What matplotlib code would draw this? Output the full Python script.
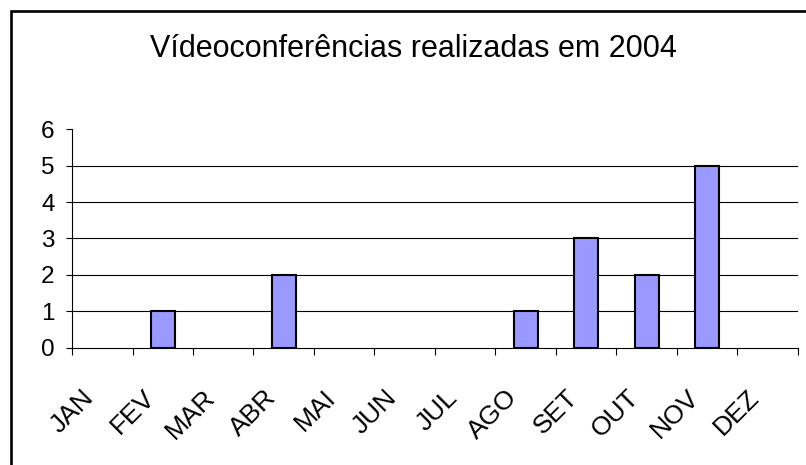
import matplotlib
matplotlib.use("Agg")
import matplotlib.pyplot as plt
from matplotlib.patches import Rectangle
from matplotlib.transforms import ScaledTranslation, blended_transform_factory

meses = ["JAN", "FEV", "MAR", "ABR", "MAI", "JUN", "JUL", "AGO", "SET", "OUT", "NOV", "DEZ"]
videoconferencias = [0, 1, 0, 2, 0, 0, 0, 1, 3, 2, 5, 0]
y_ticks = [0, 1, 2, 3, 4, 5, 6]

titulo = "Vídeoconferências realizadas em 2004"

plt.rcParams['font.family'] = ['Liberation Sans', 'DejaVu Sans']

fig = plt.figure(figsize=(8.06, 4.65), dpi=100)
ax = fig.add_axes([72 / 806, 1 - 347.7 / 465, 726 / 806, 218.4 / 465])

x = list(range(len(meses)))
barras = ax.bar(x, videoconferencias, width=0.4, color="#9999FF", edgecolor="black", linewidth=1.5, zorder=3)
# Excel doesn't show anything for empty months
for b, v in zip(barras, videoconferencias):
    if v == 0:
        b.set_visible(False)

# gridlines between 0 and 6 only
ax.hlines(y_ticks[1:-1], -0.5, len(meses) - 0.5, color="black", linewidth=0.8, zorder=1)

ax.set_xlim(-0.5, len(meses) - 0.5)
ax.set_ylim(y_ticks[0], y_ticks[-1])
ax.set_yticks(y_ticks)
ax.tick_params(axis='y', direction='out', length=4.5, width=0.8, pad=8, labelsize=17.5)

# tick marks at category boundaries, labels placed separately
ax.set_xticks([i - 0.5 for i in range(len(meses) + 1)])
ax.set_xticklabels([])
ax.tick_params(axis='x', direction='out', length=5, width=0.8)

for s in ['top', 'right']:
    ax.spines[s].set_visible(False)
for s in ['left', 'bottom']:
    ax.spines[s].set_linewidth(0.8)
    ax.spines[s].set_color("black")

trans = blended_transform_factory(ax.transData, ax.transAxes) + \
    ScaledTranslation(-7 / 100, -51 / 100, fig.dpi_scale_trans)
for i, m in enumerate(meses):
    ax.text(i, 0, m, transform=trans, rotation=45, rotation_mode='anchor',
            ha='right', va='baseline', fontsize=19)

fig.text(413 / 806, 1 - 56.7 / 465, titulo, ha='center', va='baseline', fontsize=22)

# outer frame (chart area border, cut off at right and bottom)
fig.add_artist(Rectangle((10.5 / 806, -0.1), 1.0, 1.1 - 11.5 / 465, transform=fig.transFigure,
                         fill=False, edgecolor="black", linewidth=1.9))

fig.savefig("out.png", dpi=100)
